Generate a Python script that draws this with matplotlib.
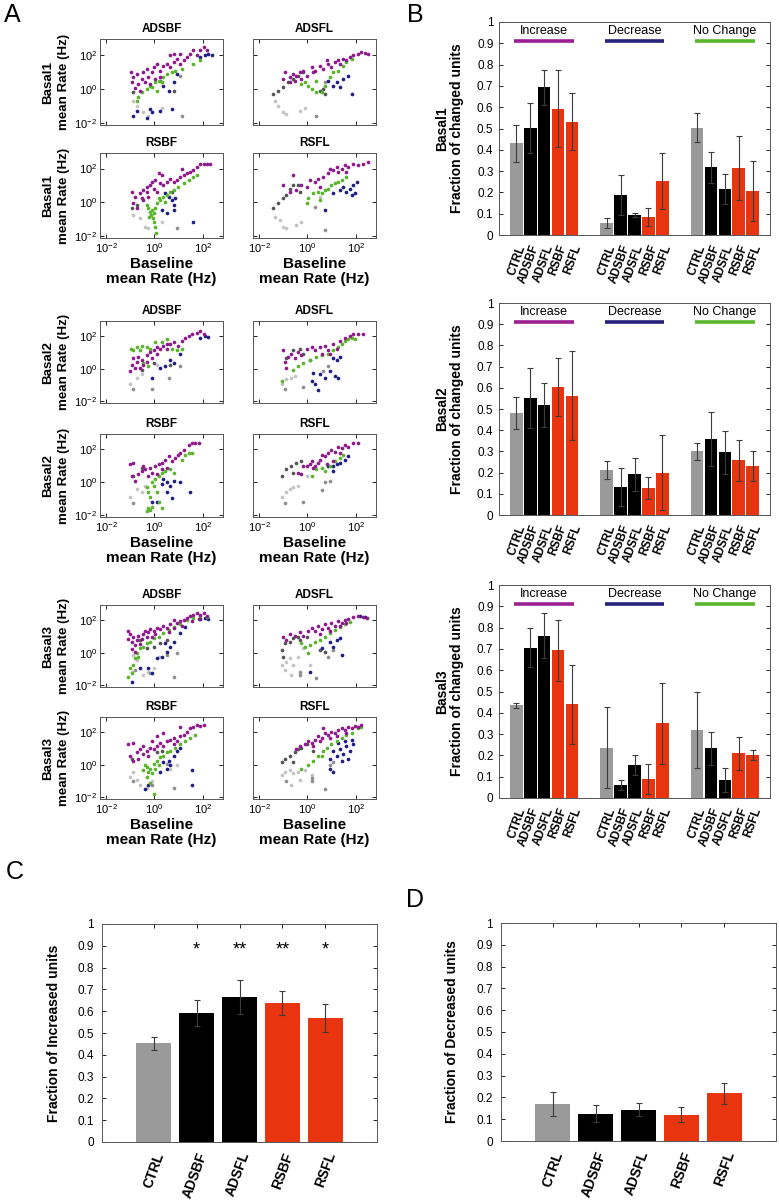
import numpy as np
import matplotlib

matplotlib.use("Agg")
import matplotlib.pyplot as plt

plt.rcParams["font.family"] = ["Liberation Sans", "DejaVu Sans"]
plt.rcParams["mathtext.default"] = "regular"

W, H = 779, 1203

GROUPS = ["CTRL", "ADSBF", "ADSFL", "RSBF", "RSFL"]
CHANGE = ["Increase", "Decrease", "No Change"]

# panel B: fraction of changed units (mean, error) per basal period
basal1_mean = [[0.430, 0.504, 0.693, 0.593, 0.532],
               [0.057, 0.188, 0.095, 0.086, 0.255],
               [0.504, 0.318, 0.216, 0.315, 0.207]]
basal1_err = [[0.086, 0.117, 0.082, 0.180, 0.134],
              [0.024, 0.094, 0.010, 0.042, 0.132],
              [0.068, 0.073, 0.070, 0.150, 0.142]]
basal2_mean = [[0.482, 0.553, 0.518, 0.604, 0.562],
               [0.212, 0.133, 0.192, 0.129, 0.199],
               [0.301, 0.358, 0.295, 0.259, 0.232]]
basal2_err = [[0.074, 0.141, 0.105, 0.136, 0.210],
              [0.041, 0.090, 0.078, 0.052, 0.177],
              [0.040, 0.129, 0.102, 0.097, 0.072]]
basal3_mean = [[0.436, 0.706, 0.762, 0.694, 0.439],
               [0.236, 0.061, 0.155, 0.089, 0.350],
               [0.319, 0.234, 0.084, 0.209, 0.202]]
basal3_err = [[0.012, 0.092, 0.107, 0.143, 0.184],
              [0.190, 0.022, 0.047, 0.072, 0.190],
              [0.177, 0.077, 0.058, 0.078, 0.023]]

# panel C / D
inc_mean = [0.453, 0.592, 0.665, 0.638, 0.569]
inc_err = [0.030, 0.058, 0.078, 0.055, 0.065]
inc_stars = ["", "*", "**", "**", "*"]
dec_mean = [0.169, 0.126, 0.144, 0.121, 0.218]
dec_err = [0.056, 0.038, 0.031, 0.035, 0.046]

# panel A: log10(baseline rate), log10(basal rate) per unit class
basal1_adsbf = {
    "inc": [(-0.98, 0.98), (-0.87, 0.73), (-0.73, 0.88), (-0.94, 0.39), (-0.80, 0.06), (-0.66, 0.29),
            (-0.52, 0.59), (-0.46, 1.02), (-0.32, 1.18), (-0.59, -0.10), (-0.25, 0.73), (-0.11, 0.98),
            (-0.04, 1.27), (0.10, 1.47), (0.23, 1.08), (0.37, 1.37), (0.51, 1.47), (0.65, 1.27),
            (0.79, 1.57), (0.92, 1.76), (1.06, 1.47), (1.20, 1.67), (1.34, 1.86), (1.48, 2.06),
            (1.61, 2.25), (1.75, 1.96), (1.89, 2.25), (2.03, 2.45), (2.17, 2.25), (0.65, 1.96),
            (0.79, 2.06), (1.06, 2.06), (0.23, 0.69), (0.03, 0.59), (-0.39, 0.39), (-0.18, 0.29)],
    "nc": [(-0.66, -0.49), (-0.52, -0.20), (-0.32, 0.00), (-0.18, 0.20), (0.03, 0.39), (0.17, 0.49),
           (0.37, 0.69), (0.51, 0.88), (0.72, 0.98), (0.86, 1.08), (1.13, 1.18), (1.61, 1.47),
           (1.89, 1.67), (0.10, -0.10), (-0.11, 0.10), (0.30, 0.39), (-0.73, -0.69)],
    "dec": [(1.89, 1.86), (2.10, 1.96), (2.23, 2.02), (2.37, 1.96), (0.37, 0.20), (0.58, -0.10),
            (0.79, 0.39), (0.92, 0.88), (-0.87, -1.57), (-0.73, -1.27), (-0.32, -1.67), (-0.18, -1.18),
            (0.23, -1.27), (0.72, -1.18), (-0.11, -1.37)],
    "dk": [(-0.87, -0.20), (0.23, 0.49), (0.79, -0.10)],
    "lt": [(-0.90, -0.69), (-0.73, -0.98), (-0.46, -1.37), (-0.25, -1.57), (0.30, -1.08)],
    "md": [(1.13, -1.57), (1.06, 0.78)],
}
basal1_adsfl = {
    "inc": [(-1.00, 0.59), (-0.94, 0.98), (-0.73, 0.69), (-0.59, 0.88), (-0.46, 0.78), (-0.32, 0.98),
            (-0.18, 1.08), (-0.04, 0.78), (0.17, 1.27), (0.30, 1.08), (0.51, 1.37), (0.65, 1.18),
            (0.86, 1.47), (0.99, 1.27), (1.13, 1.57), (1.27, 1.67), (1.48, 1.76), (1.61, 1.67),
            (1.75, 1.86), (1.89, 1.96), (2.10, 2.06), (2.23, 2.16), (2.37, 2.10), (2.51, 2.06),
            (-0.73, 0.39), (-0.52, 0.49), (-0.25, 0.59), (0.23, 0.98), (0.79, 1.67), (1.34, 1.47)],
    "nc": [(-0.11, 0.39), (0.03, 0.20), (0.17, 0.00), (0.37, 0.49), (0.58, -0.20), (0.72, 0.20),
           (0.92, 0.69), (1.06, 0.98), (1.27, 1.08), (1.48, 1.37), (1.61, 1.57), (1.82, 1.76),
           (-0.25, 0.29), (0.37, -0.20)],
    "dec": [(1.06, 0.20), (1.20, 0.39), (1.34, 0.10), (1.48, 0.59), (1.68, 0.78), (1.82, -0.29),
            (0.86, 0.49)],
    "dk": [(-1.42, -0.29), (-1.22, -0.10), (-1.00, 0.10), (-0.80, 0.39), (-0.59, 0.59), (-0.39, 0.78),
           (-0.18, 0.98), (0.51, -0.10), (0.65, 0.00), (0.72, -0.29)],
    "lt": [(-1.35, -0.69), (-1.22, -0.98), (-1.00, -1.37), (-0.87, -1.47), (-0.32, -1.27), (-0.11, -1.08)],
    "md": [(0.37, -1.57), (0.72, 0.39)],
}
basal1_rsbf = {
    "inc": [(-0.94, 0.63), (-0.80, 0.33), (-0.87, -0.06), (-0.59, 0.53), (-0.46, 0.73), (-0.32, 0.92),
            (-0.18, 1.02), (-0.04, 0.82), (0.10, 0.63), (-0.11, 1.22), (0.03, 1.31), (0.23, 1.12),
            (0.37, 1.02), (0.51, 1.22), (0.65, 1.41), (0.79, 1.22), (0.92, 1.31), (1.06, 1.51),
            (1.20, 1.61), (1.34, 1.71), (1.48, 1.80), (1.61, 1.90), (1.75, 2.10), (1.89, 2.29),
            (2.03, 2.29), (2.17, 2.25), (2.30, 2.29), (0.17, 1.71), (0.30, 1.61), (1.13, 2.00),
            (-0.73, -0.35), (-0.46, 0.14), (-0.25, 0.33), (-0.32, 0.63), (-0.52, 0.24)],
    "nc": [(-0.25, -0.35), (-0.18, -0.55), (-0.11, -0.45), (-0.04, -0.65), (0.03, -0.35), (-0.15, -0.75),
           (-0.07, -0.94), (-0.01, -1.14), (0.03, -1.43), (0.07, -1.82), (0.10, -0.06), (0.23, 0.14),
           (0.37, 0.33), (0.51, 0.43), (0.65, 0.63), (0.79, 0.73), (0.99, 0.92), (1.20, 1.12),
           (1.41, 1.31), (1.61, 1.51), (1.75, 1.61), (0.17, 0.24), (-0.32, -0.16), (-0.21, -0.84),
           (0.44, 0.04)],
    "dec": [(0.44, 0.53), (0.58, 0.33), (0.72, 0.14), (0.86, 0.24), (0.79, -0.16), (0.51, -0.65),
            (0.79, -0.45), (1.61, -1.14), (0.30, -0.45)],
    "dk": [(-0.94, -0.35), (-0.73, -0.16), (0.72, 0.63)],
    "lt": [(-0.87, -0.75), (-0.59, -0.94), (-0.39, -1.43), (-0.25, -1.53), (0.30, -1.14)],
    "md": [(0.92, -1.53)],
}
basal1_rsfl = {
    "inc": [(-1.00, 1.02), (-0.73, 0.63), (-0.46, 0.73), (-0.25, 1.02), (-0.04, 0.92), (0.10, 1.31),
            (0.30, 1.22), (0.44, 1.41), (0.65, 1.51), (0.86, 1.71), (1.06, 1.90), (1.20, 2.10),
            (1.41, 2.00), (1.55, 2.20), (1.68, 2.10), (1.89, 2.29), (2.10, 2.20), (2.30, 2.29),
            (2.51, 2.39), (0.51, 0.92), (0.92, 2.00), (1.27, 1.80), (-0.59, 1.61), (1.61, 1.80)],
    "nc": [(0.58, 0.53), (0.72, 0.73), (0.86, 0.82), (0.99, 1.02), (1.13, 1.12), (1.27, 1.22),
           (1.41, 1.31), (1.61, 1.51), (-0.04, -0.06), (0.03, 0.24), (0.23, 0.53), (0.44, 0.63),
           (0.51, 0.14)],
    "dec": [(1.34, 0.73), (1.48, 0.92), (1.61, 0.63), (1.75, 0.82), (1.89, 1.02), (2.03, 1.22),
            (1.82, 0.43), (1.96, 0.53), (1.06, 0.53), (0.72, -0.45)],
    "dk": [(-1.42, -0.35), (-1.22, -0.06), (-1.00, 0.24), (-0.87, 0.43), (-0.73, 0.82), (-0.59, 1.02),
           (-0.39, 1.02), (-0.32, 0.63)],
    "lt": [(-1.35, -0.84), (-1.15, -1.04), (-1.00, -1.43), (-0.87, -1.53), (-0.46, -1.33), (-0.25, -1.14),
           (0.51, 0.33)],
    "md": [(0.72, -1.63), (0.30, -0.25)],
}
basal2_adsbf = {
    "inc": [(-1.00, -0.16), (-0.94, 0.24), (-0.87, 0.63), (-0.73, 0.43), (-0.80, 0.04), (-0.66, 0.73),
            (-0.52, 0.53), (-0.46, 0.24), (-0.32, 0.82), (-0.18, 1.02), (-0.04, 1.12), (0.10, 0.92),
            (0.23, 1.22), (0.37, 1.41), (0.51, 1.22), (0.65, 1.51), (0.79, 1.61), (0.99, 1.41),
            (1.13, 1.71), (1.27, 1.90), (1.41, 2.00), (1.55, 2.10), (1.75, 2.20), (1.89, 2.29),
            (2.03, 2.10), (-0.32, 0.43), (-0.11, 0.63), (0.10, 1.31), (-0.59, 0.04), (0.51, 1.51)],
    "nc": [(-0.98, 1.22), (-0.87, 1.12), (-0.73, 1.31), (-0.59, 1.12), (-0.52, 1.41), (-0.32, 1.31),
           (-0.18, 1.22), (0.03, 1.61), (0.30, 1.61), (0.51, 1.80), (0.72, 1.22), (0.92, 1.12),
           (1.13, 1.22), (-0.46, 0.33), (-0.25, 0.14)],
    "dec": [(1.89, 1.90), (2.10, 2.00), (2.23, 1.94), (0.65, 0.53), (0.79, 0.33), (0.23, 0.04),
            (0.44, 0.14), (-0.11, -0.55), (1.06, 0.92)],
    "dk": [(-0.52, -0.06), (-0.04, 0.33), (0.65, 0.24)],
    "lt": [(-1.00, -0.94), (-0.73, -0.55), (-0.52, -0.35), (0.10, 0.24)],
    "md": [(-0.87, -1.24), (-0.11, -1.24), (0.58, -0.55), (1.06, 0.14)],
}
basal2_adsfl = {
    "inc": [(-1.00, 1.12), (-0.94, 0.43), (-0.80, 0.73), (-0.66, 0.92), (-0.52, 0.63), (-0.39, 1.02),
            (-0.25, 0.82), (-0.04, 1.22), (0.17, 1.31), (0.30, 1.12), (0.51, 1.31), (0.72, 1.41),
            (0.86, 1.12), (1.06, 1.51), (1.20, 1.22), (1.34, 1.71), (1.55, 1.90), (1.75, 2.00),
            (1.89, 2.10), (2.10, 2.10), (2.30, 2.10), (-0.87, 0.04), (0.58, 0.92), (0.92, 0.92)],
    "nc": [(-1.07, -0.75), (-0.59, -0.06), (-0.39, 0.14), (-0.18, 0.33), (0.10, 0.53), (0.37, 0.73),
           (0.58, 0.82), (0.86, 0.92), (1.06, 1.12), (1.27, 1.31), (1.41, 1.51), (1.55, 1.71),
           (1.68, 1.80), (1.82, 1.90), (1.96, 1.80)],
    "dec": [(1.06, 0.63), (1.20, 0.53), (1.34, 0.73), (0.92, -0.16), (0.72, -0.55), (0.51, -0.35),
            (0.17, -0.75), (0.30, -0.94), (0.44, -1.33), (1.13, -0.45), (1.27, -0.55), (0.23, -0.25)],
    "dk": [(-0.87, 0.63), (-0.59, 1.12), (-0.32, 1.22), (-0.18, 0.92), (0.10, 0.53)],
    "lt": [(-1.07, -0.94), (-0.87, -0.65), (-0.66, -0.55), (-0.52, -0.45)],
    "md": [(-0.94, -1.24), (-0.18, -1.14), (0.65, -0.16), (0.86, 0.14)],
}
basal2_rsbf = {
    "inc": [(-1.03, 1.08), (-0.87, 1.18), (-0.94, 0.39), (-0.80, 0.10), (-0.66, 0.49), (-0.52, 0.69),
            (-0.39, 0.78), (-0.25, 0.39), (-0.11, 0.59), (0.03, 0.98), (0.17, 1.08), (0.30, 1.18),
            (0.44, 1.37), (0.58, 1.57), (0.72, 1.27), (0.86, 1.47), (0.99, 1.67), (1.06, 1.76),
            (1.20, 1.96), (1.41, 2.25), (1.55, 2.35), (1.68, 2.35), (1.82, 2.39), (0.10, 0.49),
            (0.30, 0.78), (0.51, 0.88), (-0.46, 0.98), (-0.18, 0.88)],
    "nc": [(-0.32, -0.29), (-0.25, -0.59), (-0.18, -0.88), (-0.25, -1.57), (-0.32, -1.76), (-0.18, -1.67),
           (-0.11, -1.47), (0.03, 0.20), (0.17, 0.39), (0.30, 0.59), (0.44, 0.69), (0.65, 0.78),
           (0.79, 0.59), (1.13, 1.37), (1.27, 1.67), (1.41, 1.76), (1.55, 1.76), (-0.04, -0.20),
           (0.10, -0.59), (0.30, -1.57), (0.17, -1.18), (-0.11, 0.00)],
    "dec": [(0.37, 0.20), (0.51, 0.00), (0.65, -0.20), (0.79, 0.10), (0.51, -0.59), (0.72, -0.98),
            (-0.11, -1.18), (0.10, -1.18), (1.06, 0.00), (1.48, -0.59), (0.30, -0.10)],
    "dk": [(-0.87, 0.39), (-0.52, 0.88)],
    "lt": [(-1.00, -0.88), (-0.73, -0.39), (-0.52, -0.59), (-0.39, -0.20)],
    "md": [(-0.87, -1.27)],
}
basal2_rsfl = {
    "inc": [(-0.39, 0.59), (-0.25, 0.49), (-0.04, 0.98), (0.10, 1.08), (0.30, 0.98), (0.44, 1.18),
            (0.58, 1.67), (0.72, 1.57), (0.86, 1.76), (0.99, 1.96), (1.13, 1.86), (1.27, 2.16),
            (1.41, 2.06), (1.55, 2.25), (1.68, 2.16), (1.89, 2.35), (2.10, 2.39), (0.23, 0.88),
            (0.79, 1.08), (1.06, 1.27), (0.51, 1.37), (1.34, 1.76), (-0.18, 0.98), (0.17, 1.27)],
    "nc": [(0.37, 0.78), (0.58, 0.88), (0.72, 0.69), (0.92, 0.98), (1.13, 1.27), (1.34, 1.47),
           (1.48, 1.67), (0.17, 0.39)],
    "dec": [(1.06, 0.98), (1.20, 1.08), (1.34, 1.18), (1.55, 1.37), (1.68, 1.57), (1.06, 0.69),
            (0.86, 0.98)],
    "dk": [(-1.07, 0.39), (-0.87, 0.78), (-0.66, 0.98), (-0.46, 1.18), (-0.25, 1.27), (-0.59, 0.59)],
    "lt": [(-1.07, -0.88), (-0.87, -0.59), (-0.73, -0.39), (-0.59, -0.29), (-0.39, -0.20), (-0.04, 0.39)],
    "md": [(-0.94, -1.27), (-0.18, -1.18), (0.58, -0.49), (0.72, 0.00), (0.92, 0.10)],
}
basal3_adsbf = {
    "inc": [(-1.08, 0.84), (-1.01, 1.14), (-0.94, 0.65), (-0.87, 0.94), (-0.80, 0.45), (-0.73, 0.75),
            (-0.66, 1.04), (-0.59, 0.55), (-0.52, 0.84), (-0.46, 1.14), (-0.39, 1.33), (-0.32, 0.94),
            (-0.25, 1.24), (-0.18, 1.43), (-0.04, 1.33), (0.10, 1.53), (0.23, 1.43), (0.37, 1.63),
            (0.51, 1.53), (0.65, 1.73), (0.79, 1.53), (0.92, 1.82), (1.06, 1.92), (1.20, 2.02),
            (1.34, 2.12), (1.48, 2.22), (1.61, 2.31), (1.75, 2.41), (1.89, 2.31), (2.03, 2.41),
            (2.17, 2.27), (-1.08, 1.33), (-0.94, 0.24), (-0.80, 0.06), (0.03, 1.14), (1.13, 1.63),
            (1.55, 1.92), (1.82, 2.06), (0.79, 2.02), (0.58, 1.24), (-0.11, 0.94)],
    "nc": [(-1.08, -1.47), (-1.01, -0.96), (-0.87, -0.76), (-0.80, -0.35), (-0.73, -0.04), (-0.59, 0.27),
           (-0.46, 0.37), (-0.32, 0.57), (-0.18, 0.67), (-0.04, 0.88), (0.17, 0.98), (0.37, 1.18),
           (0.58, 1.37), (0.79, 1.57), (1.06, 1.78), (1.34, 1.98), (1.61, 2.12), (1.89, 2.24),
           (2.17, 2.18), (-0.66, -0.24), (-0.94, -1.27)],
    "dec": [(-0.94, -1.78), (-0.59, -0.96), (-0.25, -0.96), (-0.11, -1.27), (0.10, -0.35), (0.30, -0.24),
            (0.51, 0.06), (0.65, 0.37), (0.79, 0.67), (1.06, 1.18), (1.27, 1.57), (1.89, 2.06),
            (2.10, 2.12), (2.23, 2.04), (0.44, 0.57)],
    "dk": [(-0.59, 0.78), (-0.32, 0.27), (-0.04, 0.37), (0.23, 0.57), (0.51, 0.78)],
    "lt": [(-0.87, -0.14), (-0.73, -0.45), (-0.46, -1.37), (-0.25, -1.16), (-0.04, -0.96), (0.17, -0.24),
           (-0.94, -1.16)],
    "md": [(-0.80, -1.06), (-0.18, -1.27), (0.79, -1.47), (0.51, -0.14), (0.92, -0.04)],
}
basal3_adsfl = {
    "inc": [(-1.00, 0.94), (-0.87, 0.75), (-0.73, 1.14), (-0.52, 1.04), (-0.32, 1.24), (-0.18, 1.04),
            (0.03, 1.33), (0.17, 1.53), (0.30, 1.33), (0.44, 1.63), (0.58, 1.43), (0.72, 1.73),
            (0.86, 1.53), (0.99, 1.82), (1.13, 1.63), (1.27, 1.92), (1.41, 1.82), (1.55, 2.02),
            (1.68, 2.06), (1.89, 2.18), (2.10, 2.22), (2.30, 2.18), (2.44, 2.12), (0.51, 1.14),
            (0.92, 1.33), (1.34, 1.63), (1.61, 1.82)],
    "nc": [(-0.25, 0.57), (-0.11, 0.37), (0.03, -0.04), (0.30, 0.67), (0.51, 0.78), (0.72, 0.98),
           (0.92, 1.18), (1.13, 1.37), (1.34, 1.57), (1.55, 1.78), (1.75, 1.88), (0.10, 0.47)],
    "dec": [(0.92, 0.67), (1.06, 0.37), (1.20, 0.78), (1.34, 0.88), (1.41, -0.14), (0.10, -1.16),
            (0.58, 0.27), (2.17, 2.22), (2.37, 2.18)],
    "dk": [(-1.07, 0.16), (-0.94, 0.57), (-0.73, 0.67), (-0.59, 0.88), (-0.39, 0.98), (-0.32, 0.78),
           (-0.04, 0.98), (-1.00, -0.24), (0.51, 0.16), (0.72, 0.06)],
    "lt": [(-1.07, -0.76), (-0.94, -1.06), (-0.87, -0.55), (-0.73, -0.35), (-0.59, -0.76), (-0.66, -1.37),
           (-0.39, -0.24), (-0.18, 0.27), (0.10, -0.76)],
    "md": [(-0.32, -1.16), (-0.32, -1.37), (0.37, -1.57), (0.86, -0.24), (1.06, 0.16)],
}
basal3_rsbf = {
    "inc": [(-1.08, 1.24), (-0.87, 1.33), (-1.01, 0.55), (-0.87, 0.25), (-0.73, 0.75), (-0.59, 0.94),
            (-0.46, 0.65), (-0.32, 0.84), (-0.18, 1.04), (-0.04, 0.94), (0.10, 1.14), (0.23, 1.33),
            (0.37, 1.14), (0.51, 1.43), (0.65, 1.53), (0.79, 1.63), (0.92, 1.43), (1.06, 1.73),
            (1.20, 1.82), (1.34, 2.02), (1.48, 2.22), (1.61, 2.31), (1.75, 2.41), (1.89, 2.35),
            (2.03, 2.41), (0.10, 1.73), (0.37, 1.92), (1.06, 2.31), (0.79, 1.24), (-0.25, 0.55),
            (-0.66, 0.35), (-0.46, 1.14), (-0.11, 1.43)],
    "nc": [(-0.46, -0.33), (-0.32, -0.14), (-0.25, -0.43), (-0.18, -0.24), (-0.11, -0.53), (-0.04, 0.06),
           (0.10, 0.25), (0.23, 0.45), (0.37, 0.55), (0.51, 0.75), (0.65, 0.84), (0.86, 1.04),
           (1.06, 1.24), (1.27, 1.43), (1.48, 1.63), (1.68, 1.82), (-0.32, -0.73), (-0.18, -1.12),
           (-0.04, -1.80), (-0.39, -0.04), (0.03, -0.24), (0.17, -0.04)],
    "dec": [(0.37, 0.16), (0.58, 0.25), (0.79, 0.55), (0.92, 0.84), (1.06, 1.04), (-0.39, -1.51),
            (-0.25, -1.22), (0.51, -0.24), (1.55, -0.33), (1.55, -1.22), (0.23, -0.43), (0.65, -0.04)],
    "dk": [(-0.94, 0.35), (0.10, 0.75), (0.30, 0.84)],
    "lt": [(-1.01, -0.73), (-0.87, -0.43), (-0.73, -0.92), (-0.59, -1.22), (-0.32, -1.41), (-0.11, -1.02),
           (0.65, -0.24), (0.92, -0.04)],
    "md": [(-0.87, -1.02), (-0.11, -1.22), (0.79, -1.41), (0.51, 0.06)],
}
basal3_rsfl = {
    "inc": [(-0.46, 0.94), (-0.32, 1.14), (-0.11, 1.24), (0.03, 1.43), (0.17, 1.33), (0.30, 1.53),
            (0.44, 1.73), (0.58, 1.63), (0.72, 1.92), (0.86, 1.82), (0.99, 2.02), (1.13, 1.92),
            (1.27, 2.12), (1.41, 2.22), (1.55, 2.12), (1.68, 2.31), (1.82, 2.22), (1.96, 2.35),
            (2.10, 2.31), (2.23, 2.41), (0.51, 1.43), (0.92, 1.63), (1.20, 1.73), (1.61, 1.92),
            (0.23, 1.14), (0.65, 2.22)],
    "nc": [(-0.25, -0.24), (0.03, -0.04), (0.23, 0.25), (0.44, 0.55), (0.65, 0.84), (0.79, 1.04),
           (0.99, 1.24), (1.20, 1.43), (1.41, 1.63), (1.61, 1.82), (1.82, 1.92), (2.10, 2.22),
           (2.23, 2.31), (0.58, 0.55)],
    "dec": [(1.06, 0.84), (1.20, 0.55), (1.34, 0.94), (1.48, 0.65), (1.61, 1.14), (1.75, 0.84),
            (1.89, 1.24), (1.41, 0.25), (1.68, 0.35), (1.27, 1.33), (1.55, 1.43), (0.92, 0.35),
            (1.06, -0.43), (0.92, -0.24), (1.82, 1.53)],
    "dk": [(-1.07, 0.16), (-0.94, 0.35), (-0.73, 0.55), (-0.52, 0.75), (-0.39, 0.94), (-0.25, 1.04),
           (-0.04, 1.24), (-0.59, 0.16), (0.23, 0.84)],
    "lt": [(-1.07, -0.63), (-0.94, -0.43), (-0.73, -0.33), (-0.59, -0.53), (-0.39, -0.43), (-0.11, -0.33),
           (-0.66, -1.22), (-0.32, -0.92), (0.17, -0.63)],
    "md": [(-0.87, -1.02), (0.17, -1.02), (0.17, -0.82), (0.72, -1.51), (0.92, -0.04), (1.06, 0.16)],
}

POINT_COLORS = {"lt": "#c4c4c4", "md": "#8f8f8f", "dk": "#555555",
                "dec": "#1f1f80", "nc": "#5ab52c", "inc": "#8e1b8c"}
BAR_COLORS = ["#9a9a9a", "#000000", "#000000", "#e8340f", "#e8340f"]
LINE_COLORS = ["#9b1f92", "#25217c", "#5ab52c"]


def pix_axes(fig, x0, y0, x1, y1):
    return fig.add_axes([x0 / W, 1 - y1 / H, (x1 - x0) / W, (y1 - y0) / H])


def style_box(ax):
    ax.tick_params(direction="in", top=True, right=True, length=3, width=0.6)
    for s in ax.spines.values():
        s.set_linewidth(0.7)
        s.set_color("#555555")


def scatter_panel(ax, data, title, basal, left, bottom):
    for key in ["lt", "md", "dk", "dec", "nc", "inc"]:
        pts = np.array(data[key])
        ax.scatter(10 ** pts[:, 0], 10 ** pts[:, 1], s=7, color=POINT_COLORS[key],
                   linewidths=0, zorder=3)
    ax.set_xscale("log")
    ax.set_yscale("log")
    ax.set_xlim(10 ** -2.25, 10 ** 2.83)
    ax.set_ylim(10 ** -2.1, 10 ** 2.92)
    ax.set_xticks([1e-2, 1e0, 1e2])
    ax.set_yticks([1e-2, 1e0, 1e2])
    ax.minorticks_off()
    style_box(ax)
    ax.tick_params(labelsize=8, pad=2)
    ax.set_title(title, fontsize=8.5, fontweight="bold", pad=5)
    if not left:
        ax.set_yticklabels([])
    else:
        ax.set_ylabel(basal + "\nmean Rate (Hz)", fontsize=9.6, fontweight="bold",
                      labelpad=3, linespacing=1.45)
    if not bottom:
        ax.set_xticklabels([])
    else:
        ax.set_xlabel("Baseline\nmean Rate (Hz)", fontsize=11, fontweight="bold",
                      labelpad=2, linespacing=1.1)


def bar_ticks(ax, pos, labels, size, pad):
    ax.set_xticks(pos)
    ax.set_xticklabels(labels, rotation=70, ha="right", rotation_mode="anchor",
                       fontsize=size, fontweight="bold")
    ax.tick_params(axis="x", length=0, pad=pad)


def change_panel(ax, means, errs, basal):
    offsets = (np.arange(5) - 2) * 0.154
    pos_all, lab_all = [], []
    for g in range(3):
        x = g + 1 + offsets
        ax.bar(x, means[g], width=0.14, color=BAR_COLORS, linewidth=0, zorder=2)
        ax.errorbar(x, means[g], yerr=errs[g], fmt="none", ecolor="#3c3c3c",
                    elinewidth=0.8, capsize=2, capthick=0.8, zorder=3)
        ax.plot([g + 1 - 0.33, g + 1 + 0.33], [0.91, 0.91], color=LINE_COLORS[g],
                linewidth=2.6, solid_capstyle="butt")
        ax.text(g + 1, 0.958, CHANGE[g], ha="center", va="center", fontsize=9)
        pos_all.extend(x)
        lab_all.extend(GROUPS)
    ax.set_xlim(0.5, 3.5)
    ax.set_ylim(0, 1)
    ax.set_yticks(np.arange(11) / 10)
    ax.set_yticklabels(["0"] + ["%.1f" % v for v in np.arange(1, 10) / 10] + ["1"])
    style_box(ax)
    ax.tick_params(axis="y", labelsize=8.5, pad=4)
    bar_ticks(ax, pos_all, lab_all, 8.5, 6)
    ax.set_ylabel(basal + "\nFraction of changed units", fontsize=10, fontweight="bold",
                  labelpad=9, linespacing=1.1)


def summary_panel(ax, means, errs, ylabel, stars=None):
    x = np.arange(1, 6)
    ax.bar(x, means, width=0.8, color=BAR_COLORS, linewidth=0, zorder=2)
    ax.errorbar(x, means, yerr=errs, fmt="none", ecolor="#3c3c3c", elinewidth=0.8,
                capsize=2.5, capthick=0.8, zorder=3)
    if stars:
        for xi, st in zip(x, stars):
            if st:
                ax.text(xi, 0.88, st, ha="center", va="center", fontsize=13)
    ax.set_xlim(-0.2, 6.2)
    ax.set_ylim(0, 1)
    ax.set_yticks(np.arange(11) / 10)
    ax.set_yticklabels(["0"] + ["%.1f" % v for v in np.arange(1, 10) / 10] + ["1"])
    style_box(ax)
    ax.tick_params(axis="y", labelsize=8.5, pad=6)
    bar_ticks(ax, x, GROUPS, 10, 6)
    ax.tick_params(axis="x", top=True, bottom=False, length=3, direction="in")
    ax.set_ylabel(ylabel, fontsize=10, fontweight="bold", labelpad=12)


def main():
    fig = plt.figure(figsize=(W / 100, H / 100), dpi=100)

    blocks = [
        ("Basal1", [basal1_adsbf, basal1_adsfl, basal1_rsbf, basal1_rsfl], (39, 125, 153, 238)),
        ("Basal2", [basal2_adsbf, basal2_adsfl, basal2_rsbf, basal2_rsfl], (321, 403, 434, 517)),
        ("Basal3", [basal3_adsbf, basal3_adsfl, basal3_rsbf, basal3_rsfl], (605, 687, 717, 799)),
    ]
    titles = ["ADSBF", "ADSFL", "RSBF", "RSFL"]
    cols = [(100, 223), (253, 376)]
    for basal, panels, (t0, b0, t1, b1) in blocks:
        rows = [(t0, b0), (t1, b1)]
        for k, data in enumerate(panels):
            r, c = divmod(k, 2)
            ax = pix_axes(fig, cols[c][0], rows[r][0], cols[c][1], rows[r][1])
            scatter_panel(ax, data, titles[k], basal, c == 0, r == 1)

    for basal, means, errs, (t, b) in [("Basal1", basal1_mean, basal1_err, (22, 235)),
                                        ("Basal2", basal2_mean, basal2_err, (303, 515)),
                                        ("Basal3", basal3_mean, basal3_err, (585, 798))]:
        ax = pix_axes(fig, 499, t, 770, b)
        change_panel(ax, means, errs, basal)

    ax = pix_axes(fig, 102, 924, 377, 1142)
    summary_panel(ax, inc_mean, inc_err, "Fraction of Increased units", inc_stars)
    ax = pix_axes(fig, 501, 923, 776, 1141)
    summary_panel(ax, dec_mean, dec_err, "Fraction of Decreased units")

    for letter, x, y in [("A", 4, 3), ("B", 407, 3), ("C", 6, 860), ("D", 406, 888)]:
        fig.text(x / W, 1 - y / H, letter, fontsize=18, ha="left", va="top")

    fig.savefig("out.png", dpi=100)


if __name__ == "__main__":
    main()
